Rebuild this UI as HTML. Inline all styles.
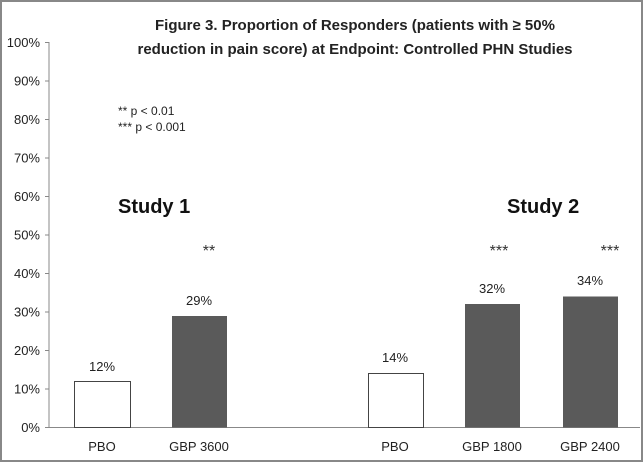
<!DOCTYPE html>
<html><head><style>
body{margin:0;background:#fff}
svg{display:block;font-family:"Liberation Sans",sans-serif}
</style></head><body>
<svg width="643" height="462" viewBox="0 0 643 462">
<rect x="1" y="1" width="641" height="460" fill="#fff" stroke="#888" stroke-width="2"/>
<text x="355" y="30" font-size="15" font-weight="bold" text-anchor="middle" fill="#222">Figure 3. Proportion of Responders (patients with ≥ 50%</text>
<text x="355" y="54" font-size="15" font-weight="bold" text-anchor="middle" fill="#222">reduction in pain score) at Endpoint: Controlled PHN Studies</text>
<g font-size="13" fill="#222" text-anchor="end">
<text x="40" y="432">0%</text><text x="40" y="393.5">10%</text><text x="40" y="355">20%</text><text x="40" y="316.5">30%</text><text x="40" y="278">40%</text><text x="40" y="239.5">50%</text><text x="40" y="201">60%</text><text x="40" y="162.5">70%</text><text x="40" y="124">80%</text><text x="40" y="85.5">90%</text><text x="40" y="47">100%</text>
</g>
<g stroke="#888" stroke-width="1">
<line x1="49" y1="42" x2="49" y2="428"/>
<line x1="49" y1="427.5" x2="640" y2="427.5"/>
<line x1="45" y1="427.5" x2="49" y2="427.5"/><line x1="45" y1="389" x2="49" y2="389"/><line x1="45" y1="350.5" x2="49" y2="350.5"/><line x1="45" y1="312" x2="49" y2="312"/><line x1="45" y1="273.5" x2="49" y2="273.5"/><line x1="45" y1="235" x2="49" y2="235"/><line x1="45" y1="196.5" x2="49" y2="196.5"/><line x1="45" y1="158" x2="49" y2="158"/><line x1="45" y1="119.5" x2="49" y2="119.5"/><line x1="45" y1="81" x2="49" y2="81"/><line x1="45" y1="42.5" x2="49" y2="42.5"/>
</g>
<rect x="74.5" y="381.5" width="56" height="46" fill="#fff" stroke="#444" stroke-width="1"/>
<rect x="172" y="316" width="55" height="111.5" fill="#5a5a5a"/>
<rect x="368.5" y="373.5" width="55" height="54" fill="#fff" stroke="#444" stroke-width="1"/>
<rect x="465" y="304" width="55" height="123.5" fill="#5a5a5a"/>
<rect x="563" y="296.5" width="55" height="131" fill="#5a5a5a"/>
<g font-size="13" fill="#222" text-anchor="middle">
<text x="102" y="371">12%</text><text x="199" y="305">29%</text><text x="395" y="362">14%</text><text x="492" y="293">32%</text><text x="590" y="285">34%</text>
<text x="102" y="451">PBO</text><text x="199" y="451">GBP 3600</text><text x="395" y="451">PBO</text><text x="492" y="451">GBP 1800</text><text x="590" y="451">GBP 2400</text>
</g>
<g font-size="16" fill="#333" text-anchor="middle">
<text x="209" y="256">**</text><text x="499" y="256">***</text><text x="610" y="256">***</text>
</g>
<text x="118" y="115" font-size="12" fill="#222">** p &lt; 0.01</text>
<text x="118" y="131" font-size="12" fill="#222">*** p &lt; 0.001</text>
<text x="118" y="213" font-size="20" font-weight="bold" fill="#111">Study  1</text>
<text x="507" y="213" font-size="20" font-weight="bold" fill="#111">Study 2</text>
</svg>
</body></html>
